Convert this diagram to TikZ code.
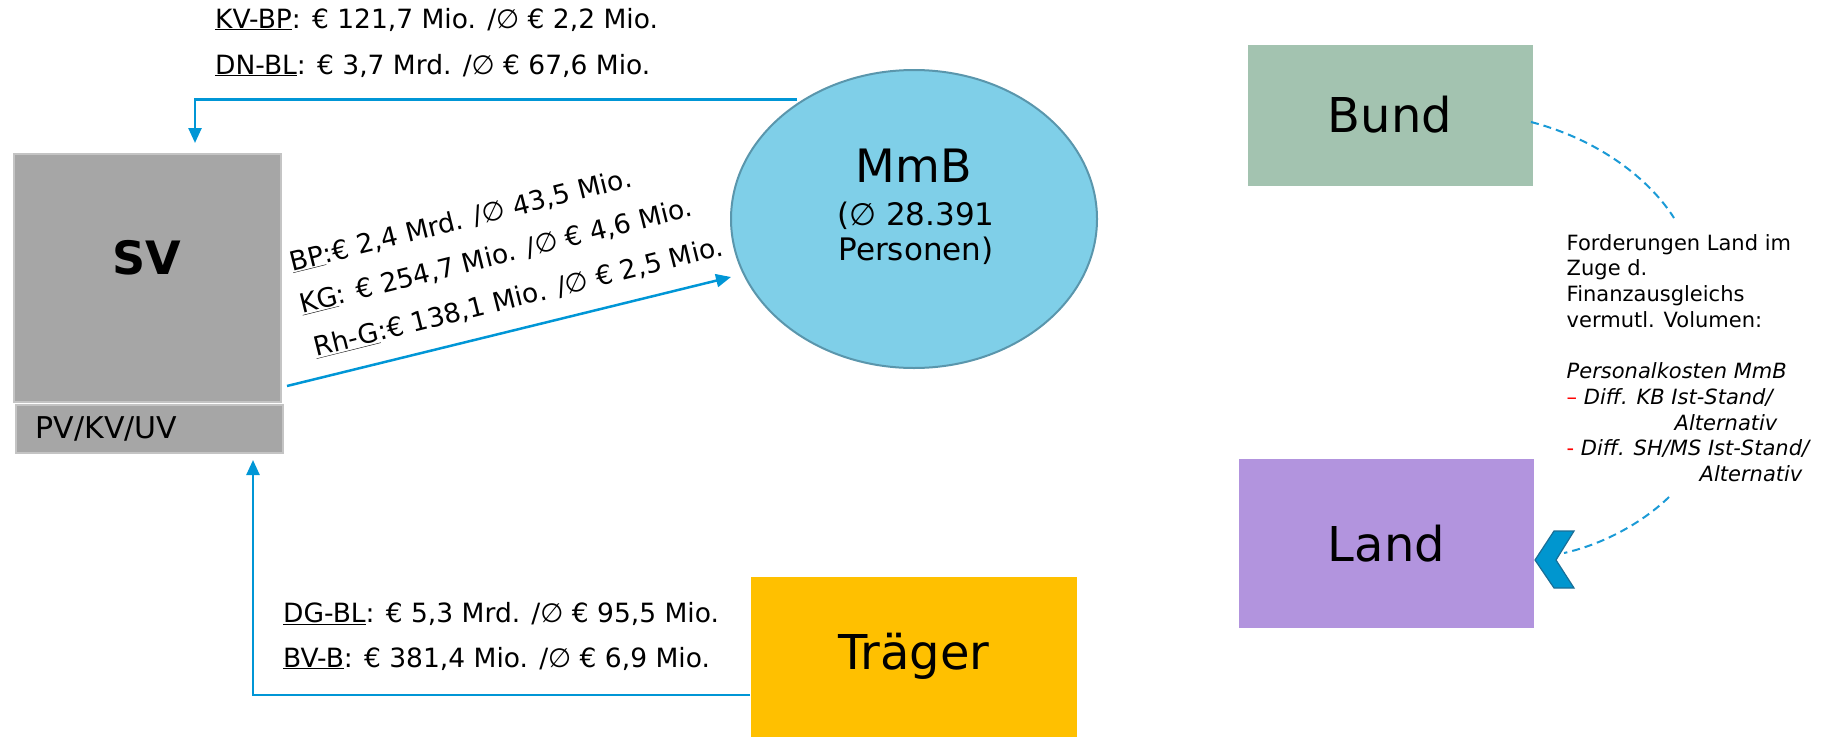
\documentclass[tikz,border=0pt]{standalone}
\usepackage{fontspec}
\setmainfont{DejaVu Sans}
\usetikzlibrary{shapes.geometric,arrows.meta}
\definecolor{flowblue}{HTML}{0096D6}
\definecolor{dashblue}{HTML}{1A9AD6}
\definecolor{svgray}{HTML}{A6A6A6}
\definecolor{svborder}{HTML}{C4C4C4}
\definecolor{mmbfill}{HTML}{7FCFE8}
\definecolor{mmbdraw}{HTML}{5A96AC}
\definecolor{bundfill}{HTML}{A3C3B0}
\definecolor{landfill}{HTML}{B294DE}
\definecolor{traegerfill}{HTML}{FFC000}
\definecolor{chevfill}{HTML}{0096CF}
\definecolor{chevdraw}{HTML}{1A6E96}
\begin{document}
\begin{tikzpicture}[x=1pt,y=-1pt,
  flow/.style={draw=flowblue, line width=2.5pt, -{Triangle[length=15pt,width=13pt]}},
  lbl/.style={font=\fontsize{26.5}{32}\selectfont, inner sep=0pt},
  colbox/.style={minimum width=285pt, minimum height=141pt, inner sep=0pt, font=\fontsize{48}{56}\selectfont},
  graybox/.style={fill=svgray, draw=svborder, line width=2pt},
  dashlink/.style={draw=dashblue, line width=2pt, dash pattern=on 8pt off 5pt}
]
\useasboundingbox (0,0) rectangle (1835,739);

% SV boxes
\node[graybox, minimum width=267pt, minimum height=248pt, inner sep=0pt] (sv) at (147.5,277.5) {};
\node[font=\fontsize{46}{52}\bfseries\selectfont, inner sep=0pt] (svtext) at (147,257.5) {SV};
\node[graybox, minimum width=267pt, minimum height=48pt, inner xsep=20pt, inner ysep=0pt,
      text width=227pt, align=left, font=\fontsize{30}{34}\selectfont] (pv) at (149.2,429.2) {PV/KV/UV};

% MmB
\node[ellipse, fill=mmbfill, draw=mmbdraw, line width=2pt, minimum width=366pt, minimum height=298pt, inner sep=0pt] (mmb) at (914,219) {};
\node[inner sep=0pt, align=center, font=\fontsize{46}{52}\selectfont] (mmbtext) at (914,165.5) {MmB};
\node[inner sep=0pt, align=center, font=\fontsize{31}{35}\selectfont, anchor=north] (mmbsub) at (916,201.5) {(∅ 28.391\\ Personen)};

% Bund, Land, Traeger
\node[colbox, fill=bundfill] (bund) at (1390,115) {Bund};
\node[colbox, fill=landfill, minimum width=295pt, minimum height=169pt] (land) at (1386.5,543.5) {Land};
\node[colbox, fill=traegerfill, minimum width=326pt, minimum height=160pt] (traeger) at (914,656.7) {Träger};

% top labels
\node[lbl, anchor=base west] (kvbp) at (215,28) {\underline{KV-BP}: € 121,7 Mio. /∅ € 2,2 Mio.};
\node[lbl, anchor=base west] (dnbl) at (215,74) {\underline{DN-BL}: € 3,7 Mrd. /∅ € 67,6 Mio.};

% rotated labels
\node[lbl, anchor=base west, rotate=14] (bp) at (292.6,271.5) {\underline{BP}:€ 2,4 Mrd. /∅ 43,5 Mio.};
\node[lbl, anchor=base west, rotate=14] (kg) at (302,313.6) {\underline{KG}: € 254,7 Mio. /∅ € 4,6 Mio.};
\node[lbl, anchor=base west, rotate=14] (rhg) at (316,357) {\underline{Rh-G}:€ 138,1 Mio. /∅ € 2,5 Mio.};

% bottom labels
\node[lbl, anchor=base west] (dgbl) at (283,622) {\underline{DG-BL}: € 5,3 Mrd. /∅ € 95,5 Mio.};
\node[lbl, anchor=base west] (bvb) at (283,667) {\underline{BV-B}: € 381,4 Mio. /∅ € 6,9 Mio.};

% annotation
\node[inner sep=0pt, anchor=north west, align=left, font=\fontsize{21}{25.7}\selectfont] (note) at (1566.5,234)
 {Forderungen Land im\\ Zuge d.\\ Finanzausgleichs\\ vermutl. Volumen:\\[25.7pt]
  \textit{Personalkosten MmB}\\
  {\color{red}–} \textit{Diff. KB Ist-Stand/}\\
  \hspace*{108pt}\textit{Alternativ}\\
  {\color{red}-} \textit{Diff. SH/MS Ist-Stand/}\\
  \hspace*{133pt}\textit{Alternativ}};

% arrows
\coordinate (a1s) at (797,99.5);
\coordinate (a1e) at (195,143);
\draw[flow] (a1s) -| (a1e);
\coordinate (a2s) at (287,386);
\coordinate (a2e) at (731,277);
\draw[flow] (a2s) -- (a2e);
\coordinate (a3s) at (750,695);
\coordinate (a3e) at (253,460);
\draw[flow] (a3s) -| (a3e);

% chevron
\filldraw[fill=chevfill, draw=chevdraw, line width=1.2pt] (1535,560) -- (1554,531) -- (1574,531) -- (1556,560) -- (1574,588) -- (1554,588) -- cycle;
\coordinate (chev) at (1564,553);

% dashed links
\coordinate (d1s) at (1531,122);
\coordinate (d1e) at (1674,218);
\draw[dashlink] (d1s) .. controls (1600,140) and (1650,180) .. (d1e);
\coordinate (d2s) at (1669,497);
\draw[dashlink] (d2s) .. controls (1640,525) and (1600,545) .. (chev);
\end{tikzpicture}
\end{document}
